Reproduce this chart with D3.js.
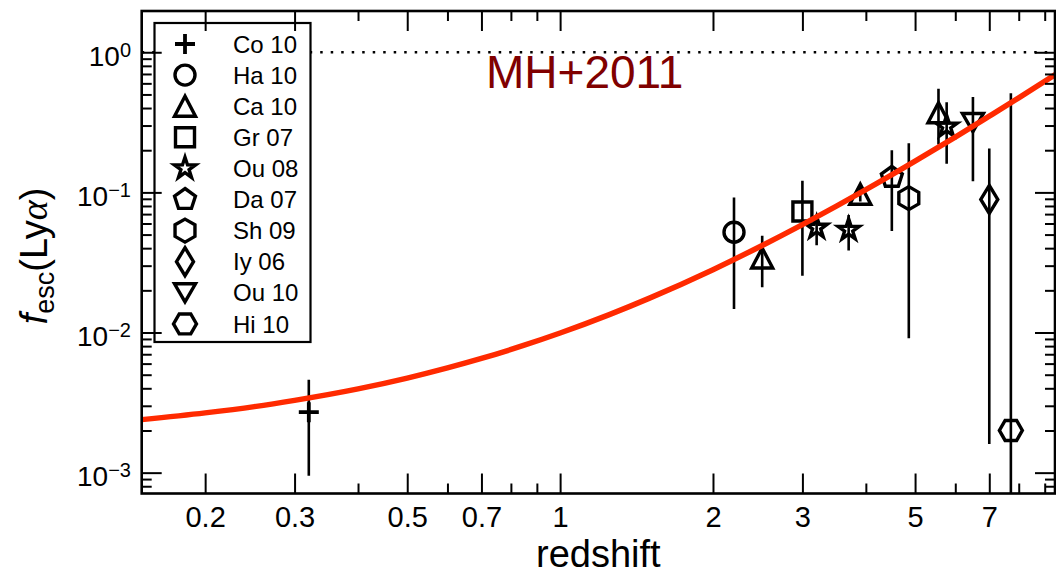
<!DOCTYPE html>
<html><head><meta charset="utf-8">
<script src="https://cdn.jsdelivr.net/npm/d3@7"></script>
<style>
body{margin:0;background:#fff}
svg{display:block}
text{font-family:"Liberation Sans",Arial,Helvetica,sans-serif}
</style></head>
<body>
<svg id="c" width="1056" height="577"></svg>
<script>
// ---------- data ----------
const seriesNames = ["Co 10","Ha 10","Ca 10","Gr 07","Ou 08","Da 07","Sh 09","Iy 06","Ou 10","Hi 10"];
const seriesSymbols = ["plus","circle","triangle","square","star","pentagon","hexagon","thindiamond","triangledown","hexagon2"];

const pointSeries = ["Co 10","Ha 10","Ca 10","Gr 07","Ou 08","Ou 08","Ca 10","Da 07","Sh 09","Ca 10","Ou 08","Ou 10","Iy 06","Hi 10"];
const pointZ      = [0.32, 2.2, 2.5, 3.0, 3.2, 3.7, 3.9, 4.5, 4.86, 5.56, 5.77, 6.5, 7.0, 7.72];
const pointF      = [0.0027, 0.052, 0.034, 0.073, 0.056, 0.054, 0.097, 0.128, 0.091, 0.37, 0.295, 0.315, 0.089, 0.002];
const pointLo     = [0.00095, 0.0147, 0.021, 0.0254, 0.042, 0.0385, 0.086, 0.053, 0.0091, 0.22, 0.16, 0.12, 0.0016, 0.0003];
const pointHi     = [0.0046, 0.092, 0.049, 0.121, 0.063, 0.069, 0.11, 0.20, 0.224, 0.55, 0.44, 0.48, 0.206, 0.51];

// MH+2011 relation
const curveZ = [0.15,0.2,0.25,0.3,0.4,0.5,0.6,0.7,0.85,1,1.25,1.5,2,2.5,3,3.5,4,5,6,7,8,9.5];
const curveF = [0.00239,0.00267,0.00296,0.00328,0.00396,0.00473,0.00559,0.00653,0.00812,0.00992,0.01342,0.0176,0.0281,0.0418,0.0589,0.0797,0.1045,0.167,0.248,0.350,0.473,0.703];

const xMajor = [0.2,0.3,0.5,0.7,1,2,3,5,7];
const xMajorLabels = ["0.2","0.3","0.5","0.7","1","2","3","5","7"];
const xMinor = [0.4,0.6,0.8,0.9,4,6,8,9];
const yMajor = [1,0.1,0.01,0.001];
const yMajorExp = ["0","\u22121","\u22122","\u22123"];
const refLine = 1;
const annotation = "MH+2011";

// ---------- layout ----------
const svg = d3.select("#c");
const L=141.7, R=1055, T=11, B=493.5;
const x = d3.scaleLog().domain([0.15,9.43]).range([L,R]);
const y = d3.scaleLog().domain([7.1e-4,1.97]).range([B,T]);

svg.append("defs").append("clipPath").attr("id","clip")
  .append("rect").attr("x",L).attr("y",T).attr("width",R-L).attr("height",B-T);

const plot = svg.append("g").attr("clip-path","url(#clip)");

// dotted reference line
plot.append("line").attr("x1",L).attr("x2",R).attr("y1",y(refLine)).attr("y2",y(refLine))
  .attr("stroke","#000").attr("stroke-width",2.5).attr("stroke-dasharray","2.5,8");

// marker shapes
function poly(pts){ return "M"+pts.map(p=>p[0].toFixed(2)+","+p[1].toFixed(2)).join("L")+"Z"; }
function regular(n,Rr,a0){ const p=[]; for(let k=0;k<n;k++){const a=a0+k*2*Math.PI/n; p.push([Rr*Math.cos(a),Rr*Math.sin(a)]);} return p; }
function markerPath(t){
  switch(t){
    case "plus": return "M-10,0H10M0,-10V10";
    case "circle": return "M10,0A10,10 0 1,1 -10,0A10,10 0 1,1 10,0Z";
    case "triangle": return poly([[0,-10],[-10.5,10],[10.5,10]]);
    case "triangledown": return poly([[0,9],[-10.5,-9],[10.5,-9]]);
    case "square": return poly([[-9.5,-9.5],[9.5,-9.5],[9.5,9.5],[-9.5,9.5]]);
    case "star": { const p=[]; for(let k=0;k<10;k++){const rr=k%2?4.3:11.2; const a=-Math.PI/2+k*Math.PI/5; p.push([rr*Math.cos(a),rr*Math.sin(a)]);} return poly(p); }
    case "pentagon": return poly(regular(5,11,-Math.PI/2));
    case "hexagon": return poly(regular(6,11.5,-Math.PI/2));
    case "hexagon2": return poly(regular(6,11.5,0));
    case "thindiamond": return poly([[0,-14],[8.5,0],[0,14],[-8.5,0]]);
  }
}
function symbolOf(name){ return seriesSymbols[seriesNames.indexOf(name)]; }

// error bars
const pts = pointZ.map((z,i)=>({z, f:pointF[i], lo:pointLo[i], hi:pointHi[i], s:pointSeries[i]}));
plot.selectAll("line.err").data(pts).enter().append("line").attr("class","err")
  .attr("x1",d=>x(d.z)).attr("x2",d=>x(d.z))
  .attr("y1",d=>y(d.lo)).attr("y2",d=>y(d.hi))
  .attr("stroke","#000").attr("stroke-width",2.6);

// markers
plot.selectAll("path.mk").data(pts).enter().append("path").attr("class","mk")
  .attr("transform",d=>`translate(${x(d.z)},${y(d.f)})`)
  .attr("d",d=>markerPath(symbolOf(d.s)))
  .attr("fill","none").attr("stroke","#000")
  .attr("stroke-width",d=>symbolOf(d.s)==="plus"?3.8:3.4)
  .attr("stroke-linejoin","miter");

// red curve
const line = d3.line().x(d=>x(d[0])).y(d=>y(d[1])).curve(d3.curveMonotoneX);
plot.append("path").datum(curveZ.map((z,i)=>[z,curveF[i]]))
  .attr("d",line).attr("fill","none").attr("stroke","#ff2a00").attr("stroke-width",5.5);

// legend
const lg = svg.append("g");
lg.append("rect").attr("x",154.5).attr("y",23).attr("width",156).attr("height",319)
  .attr("fill","#fff").attr("stroke","#000").attr("stroke-width",2.2);
seriesNames.forEach((n,i)=>{
  const cy = 44 + i*31.1;
  lg.append("path").attr("transform",`translate(185,${cy})`).attr("d",markerPath(seriesSymbols[i]))
    .attr("fill","none").attr("stroke","#000").attr("stroke-width",seriesSymbols[i]==="plus"?3.8:3.4);
  lg.append("text").attr("x",233).attr("y",cy+8.6).attr("font-size",24).attr("fill","#000").text(n);
});

// annotation
svg.append("text").attr("x",486).attr("y",88).attr("font-size",46).attr("fill","#800000").text(annotation);

// axes
function style(g){
  g.attr("font-family",null).attr("font-size",null);
  g.select(".domain").remove();
  g.selectAll(".tick line").attr("stroke","#000").attr("stroke-width",2);
  g.selectAll(".tick text").attr("fill","#000").attr("font-size",29)
    .attr("font-family",'"Liberation Sans",Arial,Helvetica,sans-serif');
}
const yMinor = y.ticks().filter(v=>!yMajor.some(m=>Math.abs(m-v)/v<1e-6));

svg.append("g").attr("transform",`translate(0,${B})`)
  .call(d3.axisBottom(x).tickValues(xMajor).tickFormat(d=>xMajorLabels[xMajor.indexOf(d)]).tickSizeInner(-20).tickSizeOuter(0).tickPadding(13)).call(style);
svg.append("g").attr("transform",`translate(0,${B})`)
  .call(d3.axisBottom(x).tickValues(xMinor).tickFormat("").tickSizeInner(-10).tickSizeOuter(0)).call(style);
svg.append("g").attr("transform",`translate(0,${T})`)
  .call(d3.axisTop(x).tickValues(xMajor).tickFormat("").tickSizeInner(-20).tickSizeOuter(0)).call(style);
svg.append("g").attr("transform",`translate(0,${T})`)
  .call(d3.axisTop(x).tickValues(xMinor).tickFormat("").tickSizeInner(-10).tickSizeOuter(0)).call(style);
svg.append("g").attr("transform",`translate(${L},0)`)
  .call(d3.axisLeft(y).tickValues(yMajor).tickFormat("").tickSizeInner(-20).tickSizeOuter(0)).call(style);
svg.append("g").attr("transform",`translate(${L},0)`)
  .call(d3.axisLeft(y).tickValues(yMinor).tickFormat("").tickSizeInner(-10).tickSizeOuter(0)).call(style);
svg.append("g").attr("transform",`translate(${R},0)`)
  .call(d3.axisRight(y).tickValues(yMajor).tickFormat("").tickSizeInner(-20).tickSizeOuter(0)).call(style);
svg.append("g").attr("transform",`translate(${R},0)`)
  .call(d3.axisRight(y).tickValues(yMinor).tickFormat("").tickSizeInner(-10).tickSizeOuter(0)).call(style);

svg.append("rect").attr("x",L).attr("y",T).attr("width",R-L).attr("height",B-T)
  .attr("fill","none").attr("stroke","#000").attr("stroke-width",2.6);

// y tick labels with superscripts
yMajor.forEach((v,i)=>{
  const t = svg.append("text").attr("x",131).attr("y",y(v)+13.5).attr("text-anchor","end")
    .attr("font-size",28).attr("fill","#000");
  t.append("tspan").text("10");
  t.append("tspan").attr("dy",-9).attr("font-size",20).text(yMajorExp[i]);
});

// axis titles
svg.append("text").attr("x",(L+R)/2).attr("y",566.5).attr("text-anchor","middle")
  .attr("font-size",38).attr("fill","#000").text("redshift");
const yt = svg.append("text").attr("transform","translate(47,256) rotate(-90)")
  .attr("text-anchor","middle").attr("font-size",38).attr("fill","#000");
yt.append("tspan").attr("font-style","italic").text("f");
yt.append("tspan").attr("font-size",27).attr("dy",7).text("esc");
yt.append("tspan").attr("dy",-7).text("(Ly");
yt.append("tspan").attr("font-family",'"Liberation Serif","DejaVu Serif",serif').attr("font-style","italic").text("\u03B1");
yt.append("tspan").text(")");
</script>
</body></html>
